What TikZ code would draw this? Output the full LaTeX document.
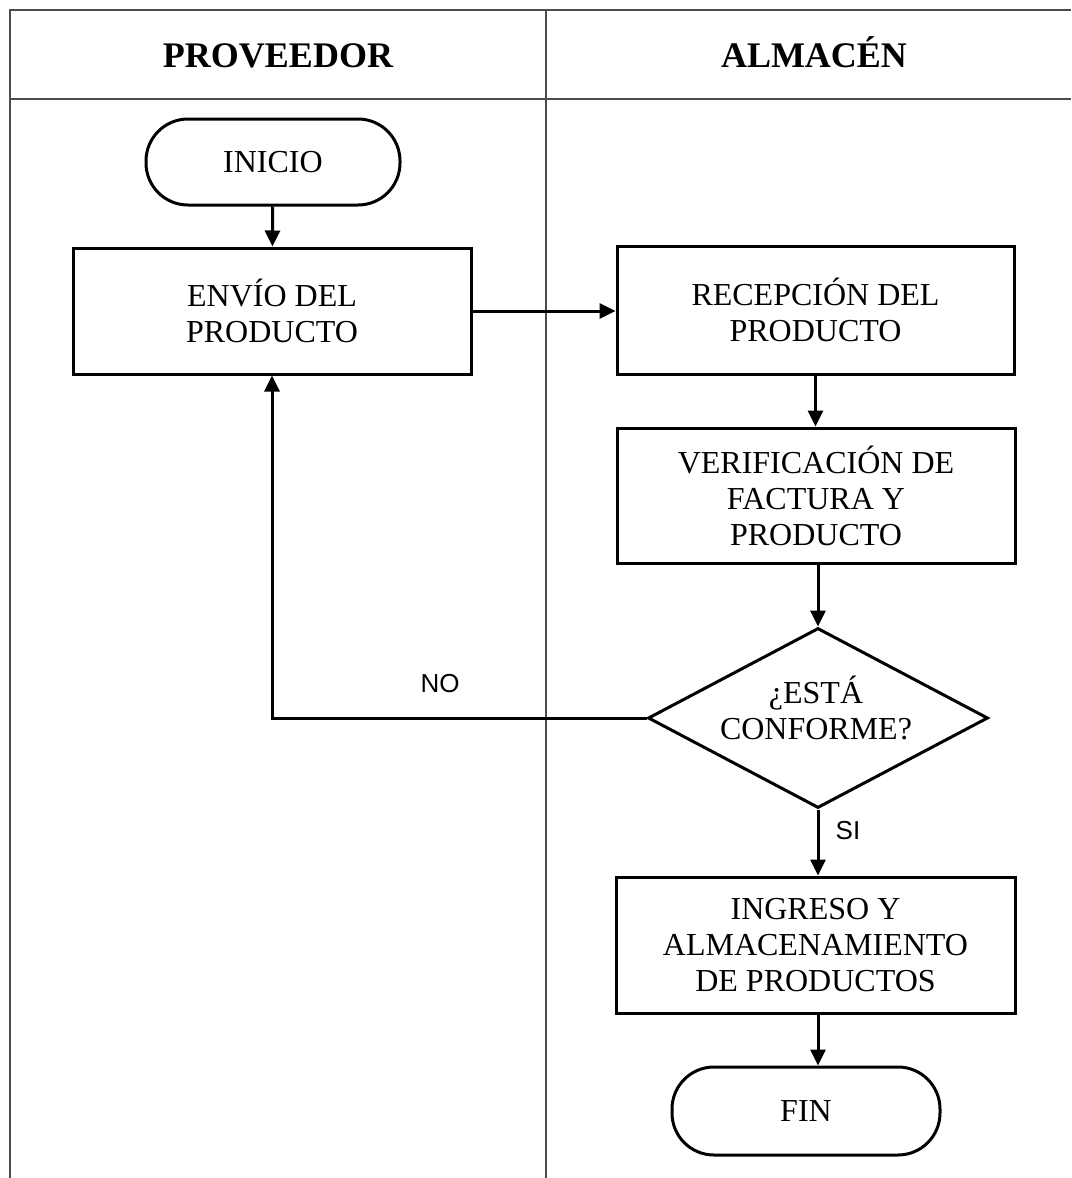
\documentclass[tikz,border=0pt]{standalone}
\usepackage{fontspec}
\setmainfont{Liberation Serif}
\newfontfamily\lblfont{Liberation Sans}
\usetikzlibrary{shapes.geometric,arrows.meta}
\begin{document}
\begin{tikzpicture}[x=0.5pt,y=-0.5pt,
  every node/.style={font=\fontsize{16pt}{18pt}\selectfont, align=center, inner sep=0pt},
  procbox/.style={draw, line width=1.5pt, rectangle},
  termbox/.style={draw, line width=1.5pt, rectangle, rounded corners=21pt},
  decbox/.style={draw, line width=1.5pt, diamond, aspect=1.89},
  conn/.style={line width=1.5pt, -{Triangle[length=8pt,width=7.5pt]}},
  grid/.style={line width=1.2pt, draw=black!70},
  hdr/.style={font=\fontsize{18pt}{20pt}\selectfont\bfseries, anchor=base},
  lbl/.style={font=\lblfont\fontsize{13pt}{15pt}\selectfont}]
\useasboundingbox (0,0) rectangle (1071,1178);
% table
\draw[grid] (10,1178) -- (10,10) -- (1071,10);
\draw[grid] (10,99) -- (1071,99);
\draw[grid] (546,10) -- (546,1178);
\node[hdr] (h1) at (278,67) {PROVEEDOR};
\node[hdr] (h2) at (814,67) {ALMACÉN};
% nodes
\node[termbox, minimum width=127pt, minimum height=43pt] (ini) at (273,162) {INICIO};
\node[procbox, minimum width=199pt, minimum height=63pt] (env) at (272,311) {ENVÍO DEL\\PRODUCTO};
\node[procbox, minimum width=198.5pt, minimum height=64pt] (rec) at (815.5,310) {RECEPCIÓN DEL\\PRODUCTO};
\node[procbox, minimum width=199pt, minimum height=67.5pt] (ver) at (816,495.5) {VERIFICACIÓN DE\\FACTURA Y\\PRODUCTO};
\node[decbox, minimum width=170pt, minimum height=90pt] (dec) at (818,718) {};
\node (dectxt) at (816,708) {¿ESTÁ\\CONFORME?};
\node[procbox, minimum width=199.5pt, minimum height=68pt] (ing) at (815.5,945) {INGRESO Y\\ALMACENAMIENTO\\DE PRODUCTOS};
\node[termbox, minimum width=134pt, minimum height=44pt] (fin) at (806,1111) {FIN};
% connectors
\draw[conn] (ini) -- (env);
\draw[conn] (env.east) -- (env.east -| rec.west);
\draw[conn] (rec) -- (rec |- ver.north);
\draw[conn] (ver.south -| dec.north) -- (dec.north);
\draw[conn] (dec.south) -- (dec.south |- ing.north);
\draw[conn] (ing.south -| dec.south) -- (dec.south |- fin.north);
\draw[conn] (dec.west) -| (env.south);
\node[lbl] (no) at (440,684) {NO};
\node[lbl] (si) at (848,831) {SI};
\end{tikzpicture}
\end{document}
